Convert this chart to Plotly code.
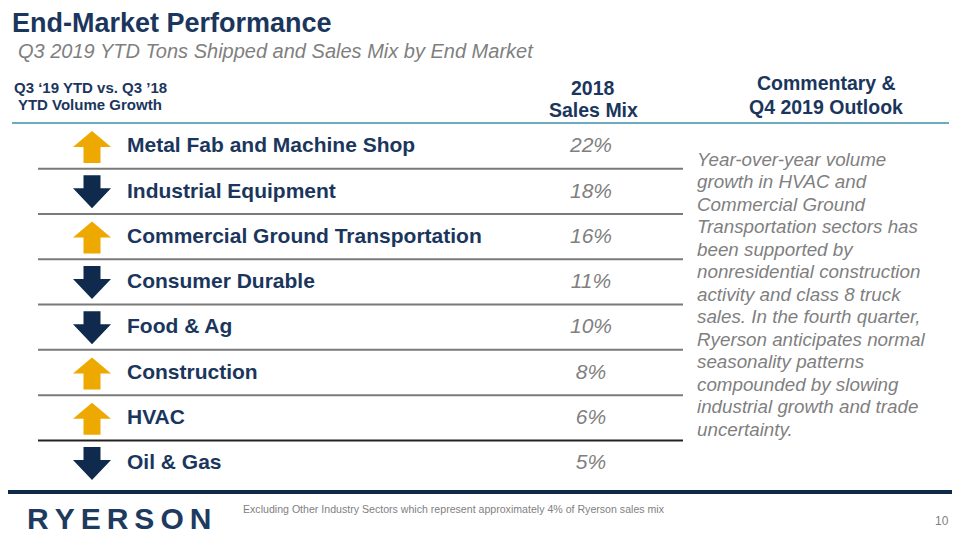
import plotly.graph_objects as go

# ---------------- data ----------------
categories = [
    "Metal Fab and Machine Shop",
    "Industrial Equipment",
    "Commercial Ground Transportation",
    "Consumer Durable",
    "Food & Ag",
    "Construction",
    "HVAC",
    "Oil & Gas",
]
sales_mix = [22, 18, 16, 11, 10, 8, 6, 5]
volume_trend = ["up", "down", "up", "down", "down", "up", "up", "down"]

commentary_lines = [
    "Year-over-year volume",
    "growth in HVAC and",
    "Commercial Ground",
    "Transportation sectors has",
    "been supported by",
    "nonresidential construction",
    "activity and class 8 truck",
    "sales. In the fourth quarter,",
    "Ryerson anticipates normal",
    "seasonality patterns",
    "compounded by slowing",
    "industrial growth and trade",
    "uncertainty.",
]

title = "End-Market Performance"
subtitle = "Q3 2019 YTD Tons Shipped and Sales Mix by End Market"
footnote = "Excluding Other Industry Sectors which represent approximately 4% of Ryerson sales mix"
page_no = "10"

# ---------------- style ----------------
NAVY = "#1B365D"
ARROW_NAVY = "#0F2A4C"
ORANGE = "#EEA900"
GRAY = "#7F7F7F"
TEAL = "#3A8FA8"
FONT = "Liberation Sans, Arial, sans-serif"

# the page body has an 8px margin; axis ranges are offset so values equal page pixels
OFF = 8

ROW0 = 146.0
ROW_H = 45.3
rows_y = [ROW0 + i * ROW_H for i in range(len(categories))]
ARROW_X = 92

up_shape = [(0, -15), (19, 1), (8.5, 1), (8.5, 17), (-8.5, 17), (-8.5, 1), (-19, 1), (0, -15)]
down_shape = [(0, 17), (19, -3), (8.5, -3), (8.5, -16), (-8.5, -16), (-8.5, -3), (-19, -3), (0, 17)]

fig = go.Figure()

for direction, color, shape in [("up", ORANGE, up_shape), ("down", ARROW_NAVY, down_shape)]:
    xs, ys = [], []
    for y, d in zip(rows_y, volume_trend):
        if d != direction:
            continue
        xs += [ARROW_X + dx for dx, dy in shape] + [None]
        ys += [y + dy for dx, dy in shape] + [None]
    fig.add_trace(go.Scatter(x=xs, y=ys, mode="lines", fill="toself", fillcolor=color,
                             line=dict(width=0, color=color), hoverinfo="skip", showlegend=False))

# category labels
fig.add_trace(go.Scatter(
    x=[127] * len(categories), y=[y + 1 for y in rows_y], mode="text", text=categories,
    textposition="middle right",
    textfont=dict(family=FONT, size=21, color=NAVY, weight="bold"),
    hoverinfo="skip", showlegend=False))

# sales mix
fig.add_trace(go.Scatter(
    x=[591] * len(sales_mix), y=[y + 1 for y in rows_y], mode="text",
    text=[f"{v}%" for v in sales_mix], textposition="middle center",
    textfont=dict(family=FONT, size=21, color=GRAY, style="italic"),
    hoverinfo="skip", showlegend=False))

shapes = []
# separators between rows
for i in range(len(categories) - 1):
    yy = (rows_y[i] + rows_y[i + 1]) / 2
    col = "#222222" if i == len(categories) - 2 else "#7a7a7a"
    shapes.append(dict(type="line", xref="x", yref="y", x0=38, x1=683, y0=yy, y1=yy,
                       line=dict(color=col, width=2)))
# teal header line
shapes.append(dict(type="line", xref="x", yref="y", x0=12, x1=949, y0=123, y1=123,
                   line=dict(color=TEAL, width=1.5)))
# bottom navy line
shapes.append(dict(type="line", xref="x", yref="y", x0=0, x1=960, y0=492, y1=492,
                   line=dict(color="#0E2A47", width=4)))

annotations = []


def ann(text, x, y, size, color=NAVY, xanchor="left", bold=False, italic=False, family=FONT):
    annotations.append(dict(
        text=text, x=x, y=y, xref="x", yref="y", xanchor=xanchor, yanchor="middle",
        showarrow=False, align=xanchor if xanchor != "center" else "center",
        font=dict(family=family, size=size, color=color,
                  weight="bold" if bold else "normal",
                  style="italic" if italic else "normal")))


ann(title, 10, 23, 27, bold=True)
ann(subtitle, 16, 51, 20, color=GRAY, italic=True)
ann("Q3 \u201819 YTD vs. Q3 \u201918", 12, 87, 15, bold=True)
ann(" YTD Volume Growth", 12, 104, 15, bold=True)
ann("2018", 593, 88, 19.5, bold=True, xanchor="center")
ann("Sales Mix", 593, 110, 19.5, bold=True, xanchor="center")
ann("Commentary &", 826, 83, 19.5, bold=True, xanchor="center")
ann("Q4 2019 Outlook", 826, 107, 19.5, bold=True, xanchor="center")

for i, line in enumerate(commentary_lines):
    ann(line, 695, 159 + i * 22.5, 18.8, color=GRAY, italic=True)

ann("R\u2009Y\u2009E\u2009R\u2009S\u2009O\u2009N", 25, 518, 30, color="#1E3A5F", bold=True)
ann(footnote, 241, 509, 10.6, color=GRAY)
ann(page_no, 951, 521, 12, color=GRAY, xanchor="right")

fig.update_layout(
    width=960 - OFF, height=540 - OFF,
    margin=dict(l=0, r=0, t=0, b=0),
    paper_bgcolor="white", plot_bgcolor="white",
    xaxis=dict(range=[OFF, 960], visible=False, fixedrange=True),
    yaxis=dict(range=[540, OFF], visible=False, fixedrange=True),
    shapes=shapes, annotations=annotations,
    showlegend=False,
)

fig.write_html("out.html")
